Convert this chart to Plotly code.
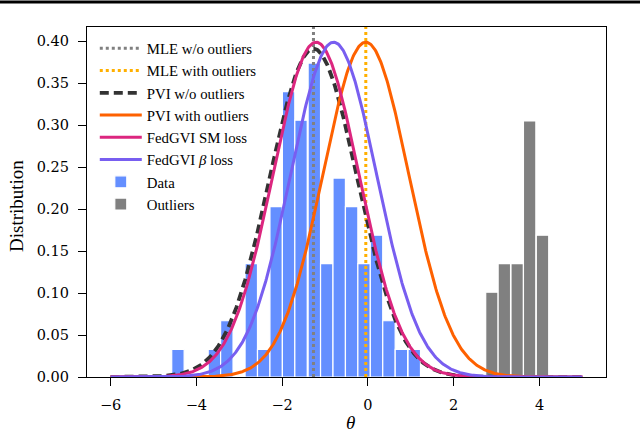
import numpy as np
import plotly.graph_objects as go

# ---- data ----
curve_labels = ["PVI w/o outliers", "PVI with outliers", "FedGVI SM loss", "FedGVI <i>β</i> loss"]
curve_means = [-1.27, -0.05, -1.21, -0.80]
curve_sds = [1.02, 1.00, 1.00, 1.00]

mle_names = ["MLE w/o outliers", "MLE with outliers"]
mle_values = [-1.27, -0.05]

data_bin_centers = [-4.43, -3.58, -3.29, -2.72, -2.43, -2.14, -1.85, -1.56, -1.25,
                    -0.96, -0.67, -0.38, -0.09, 0.20, 0.49, 0.78, 1.08]
data_heights = [0.033, 0.033, 0.067, 0.135, 0.033, 0.203, 0.340, 0.306, 0.374,
                0.135, 0.237, 0.203, 0.135, 0.169, 0.067, 0.033, 0.033]
outlier_bin_centers = [2.89, 3.18, 3.48, 3.77, 4.07]
outlier_heights = [0.101, 0.135, 0.135, 0.305, 0.169]
bin_width = 0.2895

theta_min, theta_max = -6, 5
x_ticks = [-6, -4, -2, 0, 2, 4]
y_ticks = [0.00, 0.05, 0.10, 0.15, 0.20, 0.25, 0.30, 0.35, 0.40]

# ---- styling ----
LEG_FONT = "Liberation Serif"
TICK_FONT = "DejaVu Serif"
c_blue = "#648FFF"
c_purple = "#785EF0"
c_pink = "#DC267F"
c_orange = "#FE6100"
c_yellow = "#FFB000"
c_gray = "#808080"
c_dark = "#333333"

y_top = 0.417
ML, MR, MT, MB = 87, 34, 27, 58
PW, PH = 640 - ML - MR, 435 - MT - MB
PB = 435 - MB  # pixel row of the plot bottom

fig = go.Figure()

mle_styles = [dict(color=c_gray, width=3, dash="dot"), dict(color=c_yellow, width=3, dash="dot")]
for name, v, st in zip(mle_names, mle_values, mle_styles):
    fig.add_trace(go.Scatter(x=[v, v], y=[0, 0.5], mode="lines", name=name, line=st))

xs = np.linspace(theta_min, theta_max, 600)
curve_styles = [
    dict(color=c_dark, width=3.8, dash="9px,5px"),
    dict(color=c_orange, width=3),
    dict(color=c_pink, width=3),
    dict(color=c_purple, width=3),
]
for lab, m, s, st in zip(curve_labels, curve_means, curve_sds, curve_styles):
    ys = np.exp(-0.5 * ((xs - m) / s) ** 2) / (s * np.sqrt(2 * np.pi))
    fig.add_trace(go.Scatter(x=xs, y=ys, mode="lines", name=lab, line=st))

fig.add_trace(go.Bar(x=data_bin_centers, y=data_heights, width=bin_width, name="Data",
                     marker=dict(color=c_blue, line=dict(color="white", width=1.2))))
fig.add_trace(go.Bar(x=outlier_bin_centers, y=outlier_heights, width=bin_width, name="Outliers",
                     marker=dict(color=c_gray, line=dict(color="white", width=1.2))))

axis_common = dict(
    showline=True, linecolor="black", linewidth=1.3, mirror=True,
    ticks="outside", ticklen=8, tickwidth=1.3, tickcolor="black",
    showgrid=False, zeroline=False, automargin=False,
    tickfont=dict(family=TICK_FONT, size=14.5, color="black"),
)

fig.update_xaxes(range=[-6.55, 5.55], tickvals=x_ticks, ticklabelstandoff=6, **axis_common)
fig.update_yaxes(range=[0, y_top], tickvals=y_ticks, tickformat=".2f", ticklabelstandoff=6, **axis_common)

annotations = [
    dict(text="<i>θ</i>", xref="paper", yref="paper",
         x=(350 - ML) / PW, y=(PB - 422) / PH,
         showarrow=False, xanchor="center", yanchor="middle",
         font=dict(family=LEG_FONT, size=19, color="black")),
    dict(text="Distribution", xref="paper", yref="paper",
         x=(16 - ML) / PW, y=(PB - 206) / PH,
         showarrow=False, xanchor="center", yanchor="middle", textangle=-90,
         font=dict(family=LEG_FONT, size=19, color="black")),
]

top_rule_y = 1 + (MT - 2) / PH
fig.update_layout(
    width=640, height=435,
    margin=dict(l=ML, r=MR, t=MT, b=MB),
    plot_bgcolor="white", paper_bgcolor="white",
    barmode="overlay",
    showlegend=True,
    legend=dict(x=0.015, y=0.985, xanchor="left", yanchor="top",
                bgcolor="rgba(255,255,255,0)", borderwidth=0,
                font=dict(family=LEG_FONT, size=14.8, color="black"),
                itemwidth=42, tracegroupgap=0),
    annotations=annotations,
    shapes=[dict(type="line", xref="paper", yref="paper", x0=-ML / PW, x1=1 + MR / PW,
                 y0=top_rule_y, y1=top_rule_y, layer="above",
                 line=dict(color="black", width=3))],
)

fig.write_html("out.html", config={"displayModeBar": False},
               post_script="document.body.style.margin='0px';")
